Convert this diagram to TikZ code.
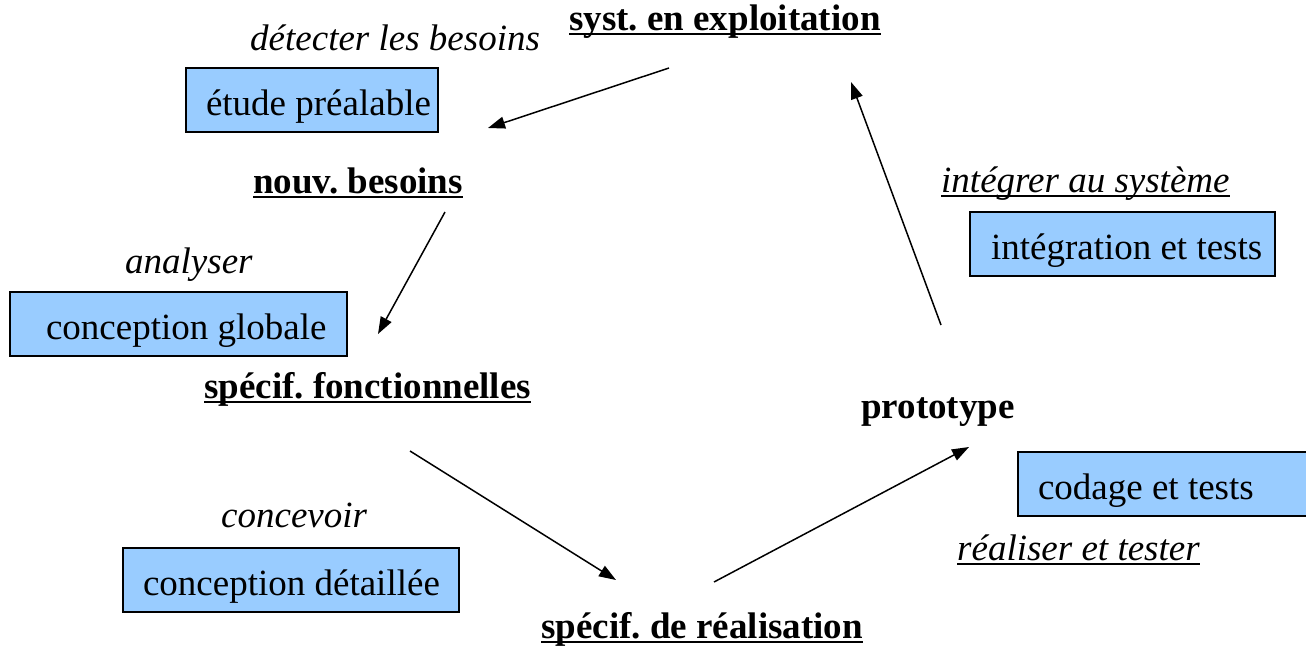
\documentclass[tikz,border=0pt]{standalone}
\usepackage{fontspec}
\setmainfont{Liberation Serif}
\usetikzlibrary{arrows.meta}
\definecolor{panelblue}{RGB}{153,204,255}
\frenchspacing
% underline drawn at a fixed depth below the baseline, crossing descenders
\newcommand\ulabel[1]{\setbox0=\hbox{#1}\rlap{\rule[-0.13em]{\wd0}{0.055em}}\box0}
\newcommand\bigsize{\fontsize{37}{44}\selectfont}
\tikzset{
  state/.style={anchor=base west, inner sep=0pt, font=\bigsize\bfseries},
  action/.style={anchor=base west, inner sep=0pt, font=\bigsize\itshape},
  panel/.style={draw, fill=panelblue, line width=2pt, inner sep=0pt, font=\bigsize,
    minimum height=64pt, text height=30pt, text depth=0pt, anchor=north west},
  flow/.style={line width=1.5pt, -{Triangle[length=17pt,width=12pt]}}
}
\begin{document}
\begin{tikzpicture}[x=1pt,y=-1pt]
\useasboundingbox (0,0) rectangle (1306,648);
\clip (0,0) rectangle (1306,648);

% stages of the cycle
\node[state] (syst) at (569,30) {\ulabel{syst. en exploitation}};
\node[state] (besoins) at (253,193) {\ulabel{nouv. besoins}};
\node[state] (fonct) at (204,398) {\ulabel{spécif. fonctionnelles}};
\node[state] (real) at (541,638) {\ulabel{spécif. de réalisation}};
\node[state] (proto) at (861,418) {prototype};

% activities
\node[action] (detecter) at (250,50) {détecter les besoins};
\node[action] (analyser) at (125,273) {analyser};
\node[action] (concevoir) at (221,527) {concevoir};
\node[action] (realiser) at (957,560) {\ulabel{réaliser et tester}};
\node[action] (integrer) at (941,192) {\ulabel{intégrer au système}};

% phases
\node[panel] (etude) at (185,67) {\makebox[252pt][l]{\hspace{20pt}étude préalable}};
\node[panel] (globale) at (9,291) {\makebox[337pt][l]{\hspace{36pt}conception globale}};
\node[panel] (detail) at (122,547) {\makebox[336pt][l]{\hspace{20pt}conception détaillée}};
\node[panel] (integ) at (969,211) {\makebox[305pt][l]{\hspace{21pt}intégration et tests}};
\node[panel] (codage) at (1017,451) {\makebox[300pt][l]{\hspace{20pt}codage et tests}};

% connector end points
\coordinate (a1) at (669,68);  \coordinate (b1) at (488,128);
\coordinate (a2) at (445,212); \coordinate (b2) at (378,334);
\coordinate (a3) at (410,451); \coordinate (b3) at (616,580);
\coordinate (a4) at (714,582); \coordinate (b4) at (969,447);
\coordinate (a5) at (941,325); \coordinate (b5) at (851,82);

\draw[flow] (a1) -- (b1);
\draw[flow] (a2) -- (b2);
\draw[flow] (a3) -- (b3);
\draw[flow] (a4) -- (b4);
\draw[flow] (a5) -- (b5);
\end{tikzpicture}
\end{document}
